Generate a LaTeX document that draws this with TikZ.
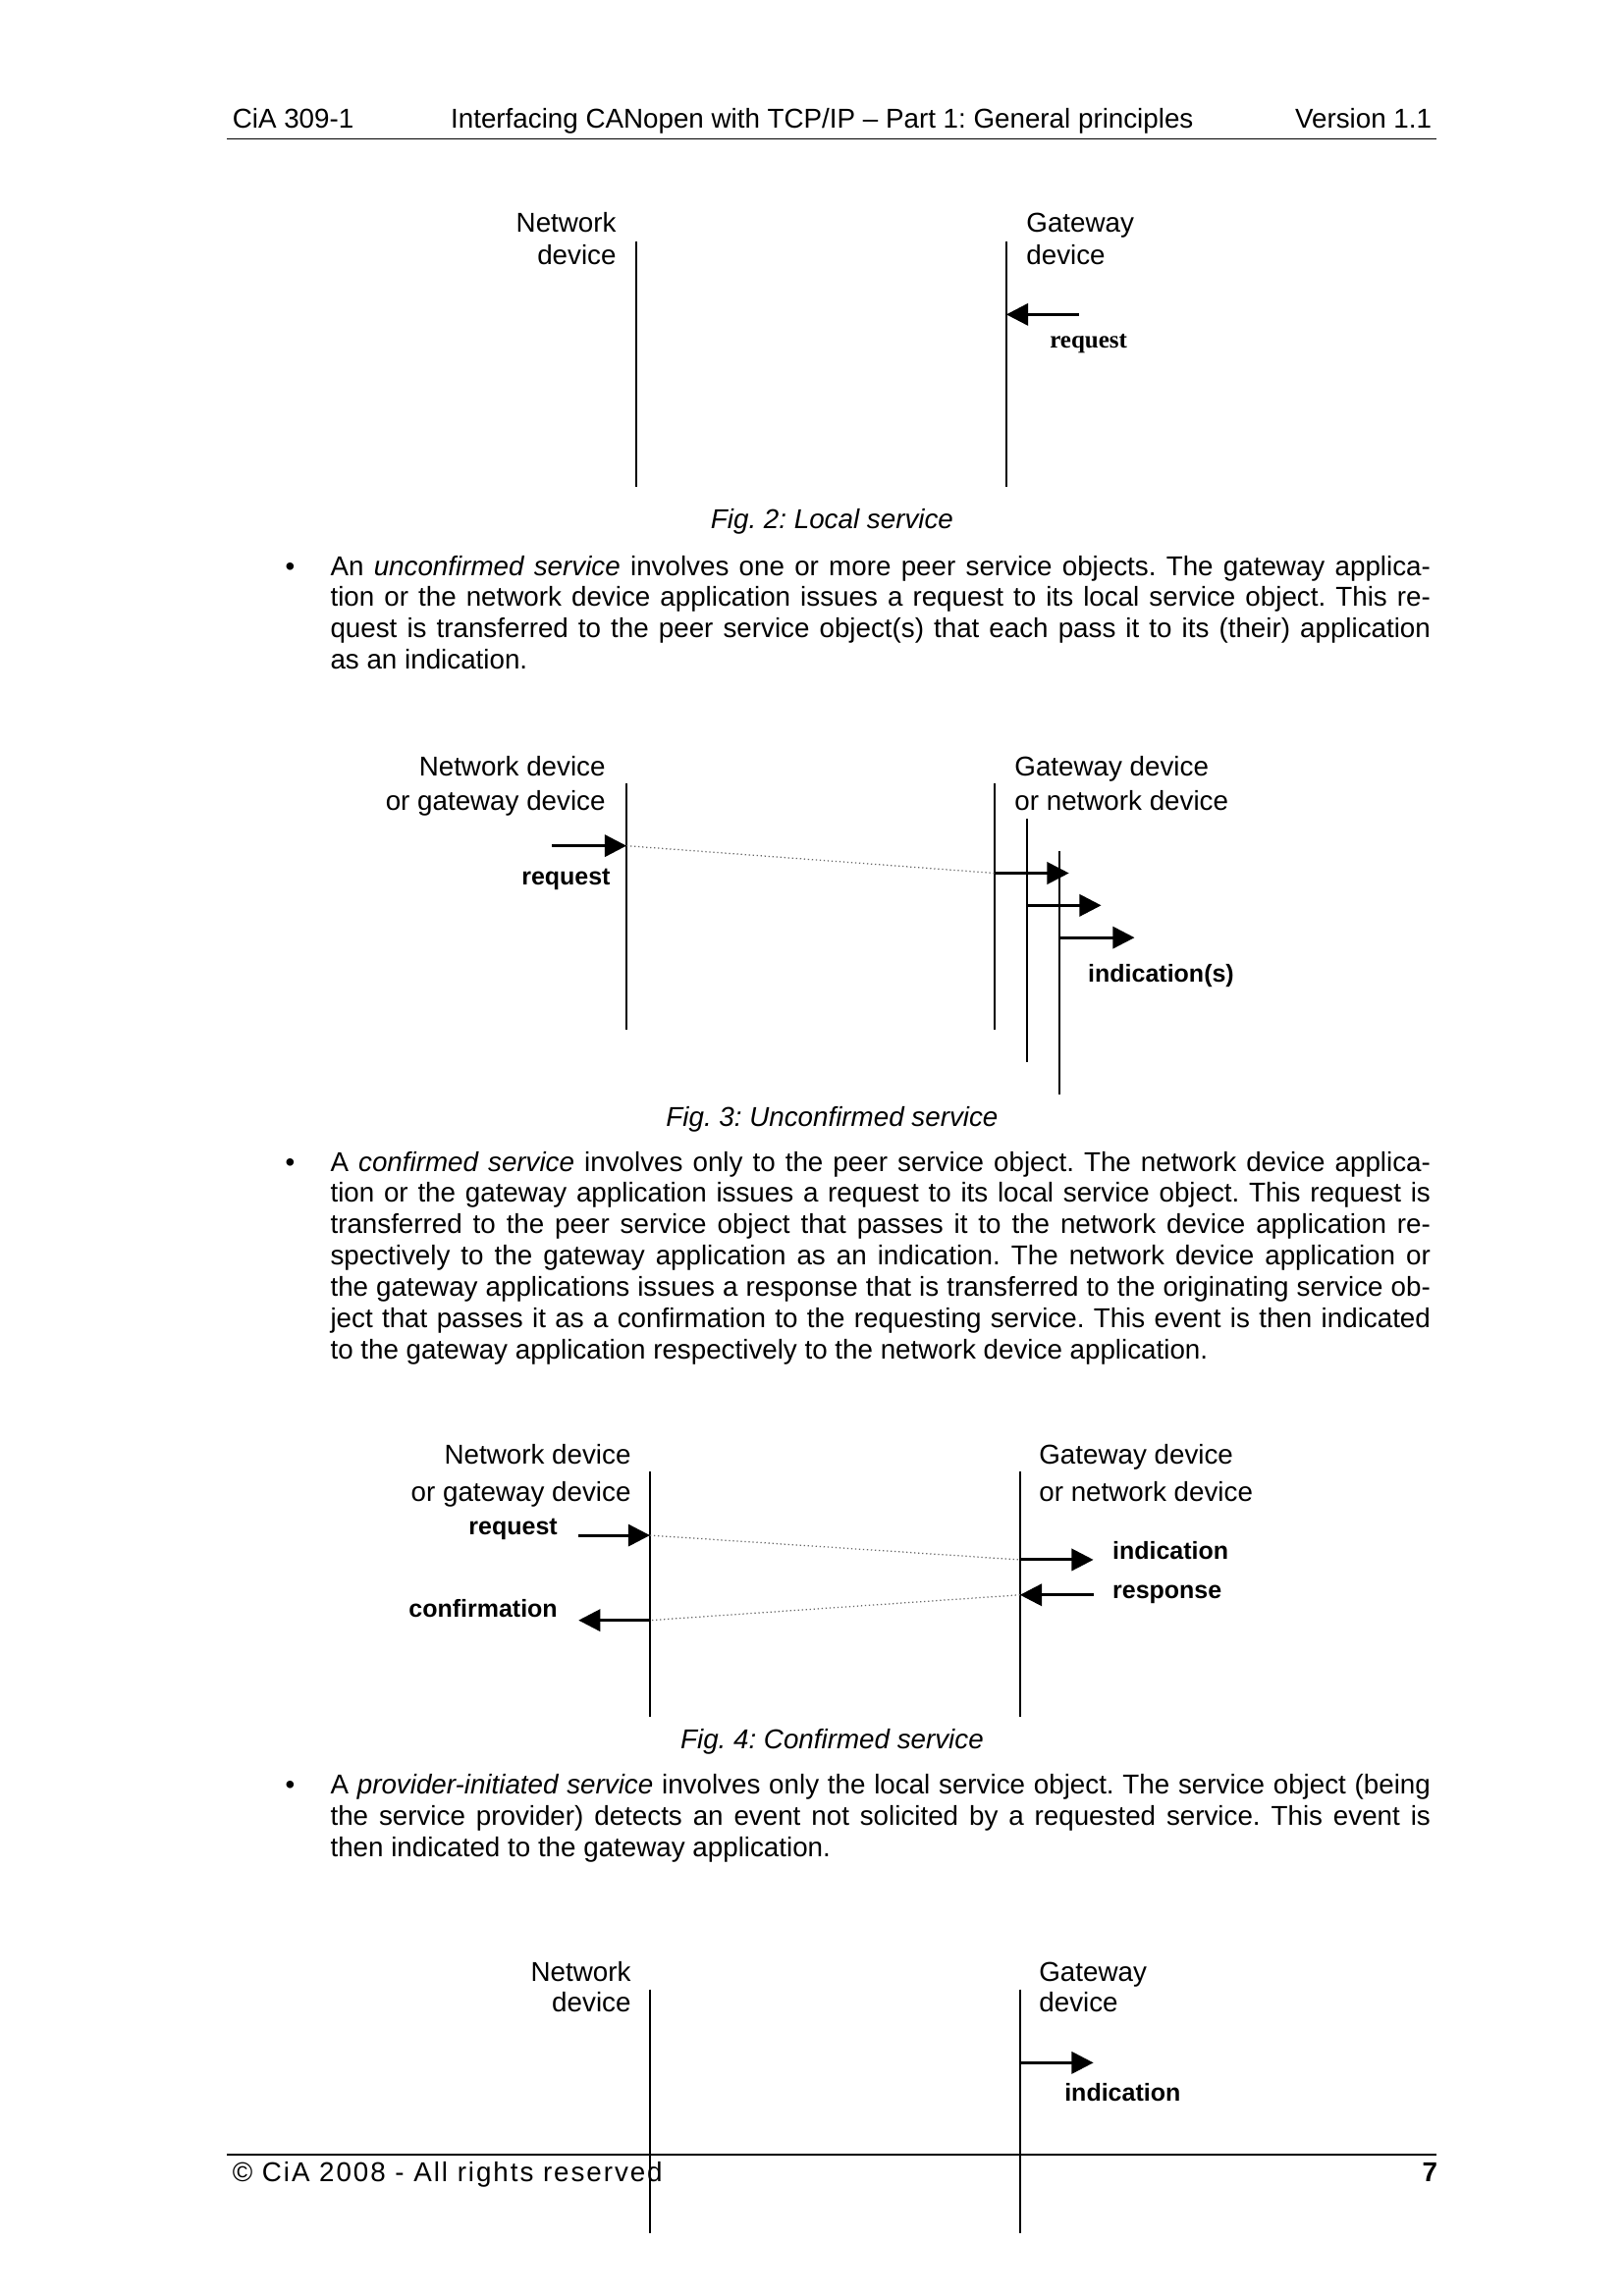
\documentclass[tikz,border=0pt]{standalone}
\usepackage{fontspec}
\setmainfont{Liberation Sans}
\newfontfamily\timesfont{Liberation Serif}
\usetikzlibrary{arrows.meta}
\newcommand\jl[1]{\hbox to 403.5pt{#1}}
\frenchspacing
\begin{document}
\begin{tikzpicture}[x=0.36012pt,y=-0.36012pt,
  life/.style={line width=0.7pt},
  msg/.style={line width=1.1pt,-{Triangle[length=8pt,width=8pt]}},
  dots/.style={line width=0.45pt,densely dotted,black!60},
  rule/.style={line width=0.5pt},
  txt/.style={inner sep=0pt,font=\fontsize{10}{11.5}\selectfont},
  blbl/.style={inner sep=0pt,font=\fontsize{9}{11}\selectfont\bfseries},
  figcap/.style={inner sep=0pt,font=\fontsize{10}{11.5}\selectfont\itshape}]
\useasboundingbox[fill=white] (0,0) rectangle (1653,2339);
\begin{scope}[xscale=0.997,yscale=0.995]
% header
\node[txt,anchor=base west] (h1) at (237,131) {CiA 309-1};
\node[txt,anchor=base west] (h2) at (460,131) {Interfacing CANopen with TCP/IP – Part 1: General principles};
\node[txt,anchor=base east] (h3) at (1463,131) {Version 1.1};
\coordinate (hr1) at (232,142); \coordinate (hr2) at (1467,142);
\draw[rule] (hr1) -- (hr2);
% footer
\coordinate (fr1) at (232,2206); \coordinate (fr2) at (1467,2206);
\draw[rule] (fr1) -- (fr2);
\node[txt,anchor=base west,font=\fontsize{10}{11.5}\selectfont\addfontfeatures{LetterSpace=7}] (f1) at (237,2234) {© CiA 2008 - All rights reserved};
\node[txt,anchor=base east,font=\fontsize{10}{11.5}\selectfont\bfseries] (f2) at (1469,2234) {7};

% ---------- Fig 2
\node[txt,anchor=base east] (n2a) at (630,238) {Network};
\node[txt,anchor=base east] (n2b) at (630,271) {device};
\node[txt,anchor=base west] (g2a) at (1048,238) {Gateway};
\node[txt,anchor=base west] (g2b) at (1048,271) {device};
\coordinate (L2t) at (650,247); \coordinate (L2b) at (650,499);
\coordinate (R2t) at (1028,247); \coordinate (R2b) at (1028,499);
\draw[life] (L2t) -- (L2b);
\draw[life] (R2t) -- (R2b);
\coordinate (a2s) at (1102,322); \coordinate (a2e) at (1028,322);
\draw[msg] (a2s) -- (a2e);
\node[inner sep=0pt,anchor=base west,font=\fontsize{9}{11}\selectfont\timesfont\bfseries] (r2) at (1072,356) {request};
\node[figcap,anchor=base] (c2) at (850,541) {Fig. 2: Local service};

% ---------- paragraph 1
\node[txt,anchor=base west] (b1) at (291,589) {•};
\node[txt,anchor=base west] (p1) at (337,589) {\vtop{%
\jl{An \textit{unconfirmed service} involves one or more peer service objects. The gateway applica-}
\jl{tion or the network device application issues a request to its local service object. This re-}
\jl{quest is transferred to the peer service object(s) that each pass it to its (their) application}
\hbox{as an indication.}}};

% ---------- Fig 3
\node[txt,anchor=base east] (n3a) at (619,794) {Network device};
\node[txt,anchor=base east] (n3b) at (619,830) {or gateway device};
\node[txt,anchor=base west] (g3a) at (1036,794) {Gateway device};
\node[txt,anchor=base west] (g3b) at (1036,830) {or network device};
\coordinate (L3t) at (640,802); \coordinate (L3b) at (640,1054);
\coordinate (R3t) at (1016,802); \coordinate (R3b) at (1016,1054);
\coordinate (S3t) at (1049,838); \coordinate (S3b) at (1049,1087);
\coordinate (T3t) at (1082,871); \coordinate (T3b) at (1082,1121);
\draw[life] (L3t) -- (L3b);
\draw[life] (R3t) -- (R3b);
\draw[life] (S3t) -- (S3b);
\draw[life] (T3t) -- (T3b);
\coordinate (q3s) at (564,866); \coordinate (q3e) at (640,866);
\draw[msg] (q3s) -- (q3e);
\node[blbl,anchor=base east] (rq3) at (624,906) {request};
\coordinate (i3a) at (1016,894); \coordinate (i3ae) at (1092,894);
\coordinate (i3b) at (1049,927); \coordinate (i3be) at (1125,927);
\coordinate (i3c) at (1082,960); \coordinate (i3ce) at (1159,960);
\draw[dots] (q3e) -- (i3a);
\draw[msg] (i3a) -- (i3ae);
\draw[msg] (i3b) -- (i3be);
\draw[msg] (i3c) -- (i3ce);
\node[blbl,anchor=base west] (in3) at (1111,1006) {indication(s)};
\node[figcap,anchor=base] (c3) at (850,1153) {Fig. 3: Unconfirmed service};

% ---------- paragraph 2
\node[txt,anchor=base west] (b2) at (291,1199) {•};
\node[txt,anchor=base west] (p2) at (337,1199) {\vtop{%
\jl{A \textit{confirmed service} involves only to the peer service object. The network device applica-}
\jl{tion or the gateway application issues a request to its local service object. This request is}
\jl{transferred to the peer service object that passes it to the network device application re-}
\jl{spectively to the gateway application as an indication. The network device application or}
\jl{the gateway applications issues a response that is transferred to the originating service ob-}
\jl{ject that passes it as a confirmation to the requesting service. This event is then indicated}
\hbox{to the gateway application respectively to the network device application.}}};

% ---------- Fig 4
\node[txt,anchor=base east] (n4a) at (645,1499) {Network device};
\node[txt,anchor=base east] (n4b) at (645,1537) {or gateway device};
\node[txt,anchor=base west] (g4a) at (1061,1499) {Gateway device};
\node[txt,anchor=base west] (g4b) at (1061,1537) {or network device};
\coordinate (L4t) at (664,1507); \coordinate (L4b) at (664,1758);
\coordinate (R4t) at (1042,1507); \coordinate (R4b) at (1042,1758);
\draw[life] (L4t) -- (L4b);
\draw[life] (R4t) -- (R4b);
\coordinate (q4s) at (591,1572); \coordinate (q4e) at (664,1572);
\coordinate (i4s) at (1042,1597); \coordinate (i4e) at (1117,1597);
\coordinate (s4s) at (1117,1633); \coordinate (s4e) at (1042,1633);
\coordinate (c4s) at (664,1659); \coordinate (c4e) at (591,1659);
\draw[msg] (q4s) -- (q4e);
\draw[dots] (q4e) -- (i4s);
\draw[msg] (i4s) -- (i4e);
\draw[msg] (s4s) -- (s4e);
\draw[dots] (s4e) -- (c4s);
\draw[msg] (c4s) -- (c4e);
\node[blbl,anchor=base east] (rq4) at (570,1571) {request};
\node[blbl,anchor=base east] (cf4) at (570,1656) {confirmation};
\node[blbl,anchor=base west] (in4) at (1136,1596) {indication};
\node[blbl,anchor=base west] (rs4) at (1136,1637) {response};
\node[figcap,anchor=base] (c4) at (850,1790) {Fig. 4: Confirmed service};

% ---------- paragraph 3
\node[txt,anchor=base west] (b3) at (291,1837) {•};
\node[txt,anchor=base west] (p3) at (337,1837) {\vtop{%
\jl{A \textit{provider-initiated service} involves only the local service object. The service object (being}
\jl{the service provider) detects an event not solicited by a requested service. This event is}
\hbox{then indicated to the gateway application.}}};

% ---------- Fig 5
\node[txt,anchor=base east] (n5a) at (645,2029) {Network};
\node[txt,anchor=base east] (n5b) at (645,2060) {device};
\node[txt,anchor=base west] (g5a) at (1061,2029) {Gateway};
\node[txt,anchor=base west] (g5b) at (1061,2060) {device};
\coordinate (L5t) at (664,2037); \coordinate (L5b) at (664,2287);
\coordinate (R5t) at (1042,2037); \coordinate (R5b) at (1042,2287);
\draw[life] (L5t) -- (L5b);
\draw[life] (R5t) -- (R5b);
\coordinate (i5s) at (1042,2112); \coordinate (i5e) at (1117,2112);
\draw[msg] (i5s) -- (i5e);
\node[blbl,anchor=base west] (in5) at (1087,2151) {indication};
\end{scope}
\end{tikzpicture}
\end{document}
